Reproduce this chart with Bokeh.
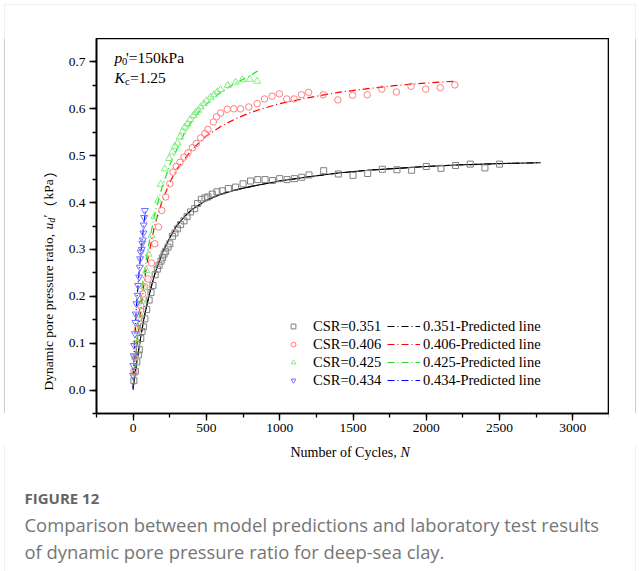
import math
from bokeh.plotting import figure
from bokeh.layouts import column, row
from bokeh.models import (Label, Legend, LegendItem, SingleIntervalTicker,
                          NumeralTickFormatter, Range1d, Span, BoxAnnotation)
from bokeh.embed import file_html
from bokeh.resources import INLINE

# ---------------- data ----------------
# CSR = 0.351 (squares)
n_351 = [5, 15, 25, 35, 42, 52, 60, 70, 80, 93, 109, 122, 135, 150, 165, 177, 190, 200, 211, 222,
         238, 250, 268, 285, 302, 324, 347, 368, 392, 420, 440, 465, 490, 510, 540, 572, 608, 650, 699, 750,
         801, 850, 900, 950, 1000, 1050, 1100, 1150, 1200, 1300, 1400, 1500, 1600, 1700, 1800, 1900, 2000,
         2100, 2200, 2300, 2400, 2500]
u_351 = [0.02, 0.04, 0.06, 0.075, 0.086, 0.11, 0.125, 0.135, 0.152, 0.172, 0.192, 0.208, 0.223, 0.246,
         0.258, 0.266, 0.275, 0.282, 0.29, 0.296, 0.305, 0.312, 0.328, 0.335, 0.344, 0.353, 0.361, 0.370,
         0.380, 0.387, 0.398, 0.407, 0.410, 0.412, 0.418, 0.423, 0.425, 0.430, 0.433, 0.440, 0.446, 0.449,
         0.449, 0.447, 0.451, 0.449, 0.451, 0.454, 0.459, 0.468, 0.461, 0.458, 0.462, 0.471, 0.470, 0.469,
         0.477, 0.473, 0.479, 0.482, 0.474, 0.482]

# CSR = 0.406 (circles)
n_406 = [5, 12, 20, 30, 40, 52, 65, 80, 102, 125, 148, 173, 195, 222, 250, 272, 295, 320, 347, 374,
         404, 431, 461, 490, 510, 547, 569, 597, 642, 687, 733, 789, 846, 896, 948, 998, 1048, 1098, 1148,
         1197, 1297, 1397, 1497, 1597, 1697, 1796, 1896, 1996, 2095, 2195]
u_406 = [0.04, 0.07, 0.10, 0.13, 0.155, 0.18, 0.205, 0.22, 0.237, 0.271, 0.312, 0.348, 0.383, 0.412,
         0.440, 0.465, 0.477, 0.486, 0.497, 0.506, 0.517, 0.526, 0.538, 0.547, 0.556, 0.572, 0.583, 0.591,
         0.599, 0.600, 0.600, 0.604, 0.611, 0.621, 0.627, 0.632, 0.621, 0.621, 0.630, 0.635, 0.630, 0.619,
         0.629, 0.630, 0.642, 0.636, 0.648, 0.642, 0.645, 0.651]

# CSR = 0.425 (triangles)
n_425 = [5, 15, 25, 35, 50, 60, 75, 90, 105, 125, 145, 170, 188, 216, 245, 268, 284, 302, 320, 336,
         352, 370, 388, 411, 427, 445, 461, 483, 501, 529, 551, 574, 597, 646, 699, 744, 796, 846]
u_425 = [0.035, 0.07, 0.10, 0.125, 0.16, 0.19, 0.22, 0.255, 0.29, 0.33, 0.37, 0.404, 0.439, 0.472,
         0.494, 0.508, 0.520, 0.527, 0.540, 0.552, 0.561, 0.568, 0.577, 0.586, 0.592, 0.597, 0.604, 0.611,
         0.617, 0.625, 0.630, 0.636, 0.641, 0.650, 0.657, 0.662, 0.663, 0.659]

# CSR = 0.434 (inverted triangles)
n_434 = [0, 2, 4, 7, 12, 16, 18, 23, 30, 34, 41, 46, 48, 52, 58, 62, 66, 70, 72, 75, 80]
u_434 = [0.031, 0.052, 0.073, 0.095, 0.120, 0.144, 0.162, 0.184, 0.202, 0.223, 0.241, 0.262, 0.280,
         0.294, 0.300, 0.313, 0.320, 0.335, 0.352, 0.368, 0.383]

# predicted lines
pn_351 = [0, 25, 50, 75, 100, 125, 150, 200, 250, 300, 350, 400, 500, 600, 700, 800, 900, 1000, 1200,
          1400, 1600, 1800, 2000, 2200, 2400, 2600, 2780]
pu_351 = [0.005, 0.06, 0.11, 0.155, 0.19, 0.222, 0.25, 0.293, 0.325, 0.352, 0.37, 0.385, 0.405, 0.418,
          0.427, 0.434, 0.440, 0.446, 0.455, 0.463, 0.469, 0.473, 0.477, 0.480, 0.482, 0.484, 0.485]
pn_406 = [0, 25, 50, 75, 100, 150, 200, 250, 300, 400, 500, 600, 700, 800, 900, 1000, 1200, 1400, 1600,
          1800, 2000, 2200]
pu_406 = [0.005, 0.09, 0.165, 0.23, 0.28, 0.355, 0.405, 0.443, 0.472, 0.513, 0.542, 0.563, 0.579, 0.592,
          0.602, 0.611, 0.624, 0.635, 0.643, 0.650, 0.655, 0.659]
pn_425 = [0, 25, 50, 75, 100, 150, 200, 250, 300, 350, 400, 450, 500, 600, 700, 800, 850]
pu_425 = [0.01, 0.11, 0.19, 0.25, 0.30, 0.38, 0.435, 0.48, 0.515, 0.548, 0.573, 0.594, 0.610, 0.636,
          0.655, 0.671, 0.681]
pn_434 = [0, 5, 10, 20, 30, 40, 50, 60, 70, 80, 85]
pu_434 = [0.0, 0.06, 0.10, 0.165, 0.21, 0.25, 0.285, 0.315, 0.345, 0.372, 0.385]

csr_labels = ["CSR=0.351", "CSR=0.406", "CSR=0.425", "CSR=0.434"]
line_labels = ["0.351-Predicted line", "0.406-Predicted line", "0.425-Predicted line", "0.434-Predicted line"]
x_ticks_interval = 500
y_ticks_interval = 0.1

# ---------------- layout geometry (canvas pixels) ----------------
W, H = 639, 571
FL, FT, FR, FB = 96, 38, 609, 413      # plot frame edges
LEFT_W = 60                            # strip holding the y title
MAIN_BOTTOM = 445                      # bottom of the main figure (tick labels above it)
BORDER = "#cccccc"
SERIF = "Liberation Serif"
CJK = "Noto Sans CJK SC"


def strip(w, h, bottom_margin=0):
    s = figure(width=w, height=h, x_range=Range1d(0, 1), y_range=Range1d(0, 1),
               x_axis_type=None, y_axis_type=None, output_backend="svg", toolbar_location=None,
               min_border=0, min_border_left=0, min_border_right=0, min_border_top=0,
               min_border_bottom=bottom_margin)
    s.outline_line_color = None
    s.background_fill_color = "white"
    s.border_fill_color = "white"
    return s


def txt(fig, x0, y_bottom, cx, cy, text, size, style="normal", angle=0.0, color="black", font=SERIF):
    """Place text at canvas position (cx, cy) in a figure whose frame starts at x0 and ends at y_bottom."""
    fig.add_layout(Label(x=cx - x0, y=y_bottom - cy, x_units="screen", y_units="screen", text=text,
                         text_font=font, text_font_size=size, text_font_style=style, angle=angle,
                         text_align="left", text_baseline="middle", text_color=color))


# ---------------- main chart ----------------
p = figure(width=FR - LEFT_W, height=MAIN_BOTTOM - FT, x_range=Range1d(-250, 3250),
           y_range=Range1d(-0.05, 0.75), output_backend="svg", toolbar_location=None,
           min_border_left=FL - LEFT_W, min_border_right=0, min_border_top=0,
           min_border_bottom=MAIN_BOTTOM - FB)
p.grid.visible = False
p.background_fill_color = "white"
p.border_fill_color = "white"
p.outline_line_color = "black"
p.outline_line_width = 1.6

p.xaxis.ticker = SingleIntervalTicker(interval=x_ticks_interval, num_minor_ticks=2)
p.yaxis.ticker = SingleIntervalTicker(interval=y_ticks_interval, num_minor_ticks=2)
p.yaxis.formatter = NumeralTickFormatter(format="0.0")
for ax in (p.xaxis[0], p.yaxis[0]):
    ax.axis_line_width = 1.6
    ax.axis_line_color = "black"
    ax.major_tick_line_width = 1.3
    ax.minor_tick_line_width = 1.3
    ax.major_tick_line_color = "black"
    ax.minor_tick_line_color = "black"
    ax.major_tick_out = 7
    ax.major_tick_in = 0
    ax.minor_tick_out = 4
    ax.minor_tick_in = 0
    ax.major_label_text_font = SERIF
    ax.major_label_text_font_size = "13.5px"
    ax.major_label_text_color = "black"
p.xaxis.major_label_standoff = 3
p.yaxis.major_label_standoff = 4

dash = "7 3 1 3"
l351_dash = p.line(pn_351, pu_351, line_color="black", line_width=1.1, line_dash=dash)
l351 = p.line(pn_351, pu_351, line_color="black", line_width=1.1)
l406 = p.line(pn_406, pu_406, line_color="#ff0000", line_width=1.2, line_dash=dash)
l425 = p.line(pn_425, pu_425, line_color="#22dd22", line_width=1.2, line_dash=dash)
l434 = p.line(pn_434, pu_434, line_color="#0000ff", line_width=1.2, line_dash=dash)

s351 = p.scatter(n_351, u_351, marker="square", size=6, fill_color=None, line_color="#808080", line_width=1)
s406 = p.scatter(n_406, u_406, marker="circle", size=6.5, fill_color=None, line_color="#ff8080", line_width=1)
s425 = p.scatter(n_425, u_425, marker="triangle", size=7, fill_color=None, line_color="#80ee80", line_width=1)
s434 = p.scatter(n_434, u_434, marker="inverted_triangle", size=7, fill_color=None, line_color="#7070ff",
                 line_width=1)

ROW_Y = [326, 344, 362, 380]   # legend row centres (canvas)


def legend(items, x, cy_top, glyph_w, standoff):
    n = len(items)
    item_h = 17
    spacing = 1
    height = n * item_h + (n - 1) * spacing
    top = cy_top - item_h / 2
    lg = Legend(items=items, location=(x - FL, FB - (top + height)), orientation="vertical",
                padding=0, margin=0, spacing=spacing, glyph_height=14, label_height=14,
                glyph_width=glyph_w, label_standoff=standoff,
                border_line_alpha=0, background_fill_alpha=0,
                label_text_font=SERIF, label_text_font_size="14.5px",
                label_text_color="black")
    p.add_layout(lg)


legend([LegendItem(label=t, renderers=[r]) for t, r in zip(csr_labels, [s351, s406, s425, s434])],
       287, ROW_Y[0], 12, 14)
# one legend per predicted line (keeps each sample's colour independent)
for t, r, cy in zip(line_labels, [l351_dash, l406, l425, l434], ROW_Y):
    legend([LegendItem(label=t, renderers=[r])], 387, cy, 33, 3)

# in-plot notes
txt(p, FL, FB, 114, 57, "p", "15.5px", "italic")
txt(p, FL, FB, 121.5, 61, "0", "10.5px")
txt(p, FL, FB, 125.5, 57, "'=150kPa", "15.5px")
txt(p, FL, FB, 114, 77, "K", "15.5px", "italic")
txt(p, FL, FB, 124.5, 81, "c", "10.5px")
txt(p, FL, FB, 129.5, 77, "=1.25", "15.5px")

# ---------------- y-title strip (its frame is aligned with the chart frame) ----------------
ys = strip(LEFT_W, MAIN_BOTTOM - FT, bottom_margin=MAIN_BOTTOM - FB)
yb = FB
up = math.pi / 2
txt(ys, 0, yb, 48, 390, "Dynamic pore pressure ratio,", "13.5px", angle=up)
txt(ys, 0, yb, 48, 229, "u", "13.5px", "italic", angle=up)
txt(ys, 0, yb, 51, 222, "d", "9.5px", "italic", angle=up)
txt(ys, 0, yb, 47, 217, "′", "13.5px", angle=up)
txt(ys, 0, yb, 48, 214, "（", "13.5px", angle=up, font=CJK)
txt(ys, 0, yb, 48, 199, "kPa", "13.5px", angle=up)
txt(ys, 0, yb, 48, 177, "）", "13.5px", angle=up, font=CJK)
ys.add_layout(Span(location=4, dimension="height", location_units="screen", line_color=BORDER, line_width=1))

# ---------------- right strip ----------------
rs = strip(W - FR, MAIN_BOTTOM - FT, bottom_margin=MAIN_BOTTOM - FB)
rs.add_layout(Span(location=635 - FR, dimension="height", location_units="screen", line_color=BORDER,
                   line_width=1))

# ---------------- top strip ----------------
ts = strip(W, FT)
ts.add_layout(BoxAnnotation(left=4, right=635, top=FT - 4, bottom=-20, left_units="screen",
                            right_units="screen", top_units="screen", bottom_units="screen",
                            fill_alpha=0, line_color=BORDER, line_width=1))

# ---------------- bottom strip (x title + caption) ----------------
bs = strip(W, H - MAIN_BOTTOM)
bb = H
txt(bs, 0, bb, 290, 452, "Number of Cycles, ", "14px")
txt(bs, 0, bb, 400, 452, "N", "14px", "italic")
txt(bs, 0, bb, 24, 497, "FIGURE 12", "15px", "bold", color="#666666", font="Open Sans")
txt(bs, 0, bb, 24, 524, "Comparison between model predictions and laboratory test results", "18.4px",
    color="#767676", font="Open Sans")
txt(bs, 0, bb, 24, 551, "of dynamic pore pressure ratio for deep-sea clay.", "18.4px", color="#767676",
    font="Open Sans")
bs.add_layout(BoxAnnotation(left=4, right=635, top=400, bottom=-20, left_units="screen",
                            right_units="screen", top_units="screen", bottom_units="screen",
                            fill_alpha=0, line_color=BORDER, line_width=1))

layout = column(ts, row(ys, p, rs), bs)
open("out.html", "w").write(file_html(layout, INLINE))
